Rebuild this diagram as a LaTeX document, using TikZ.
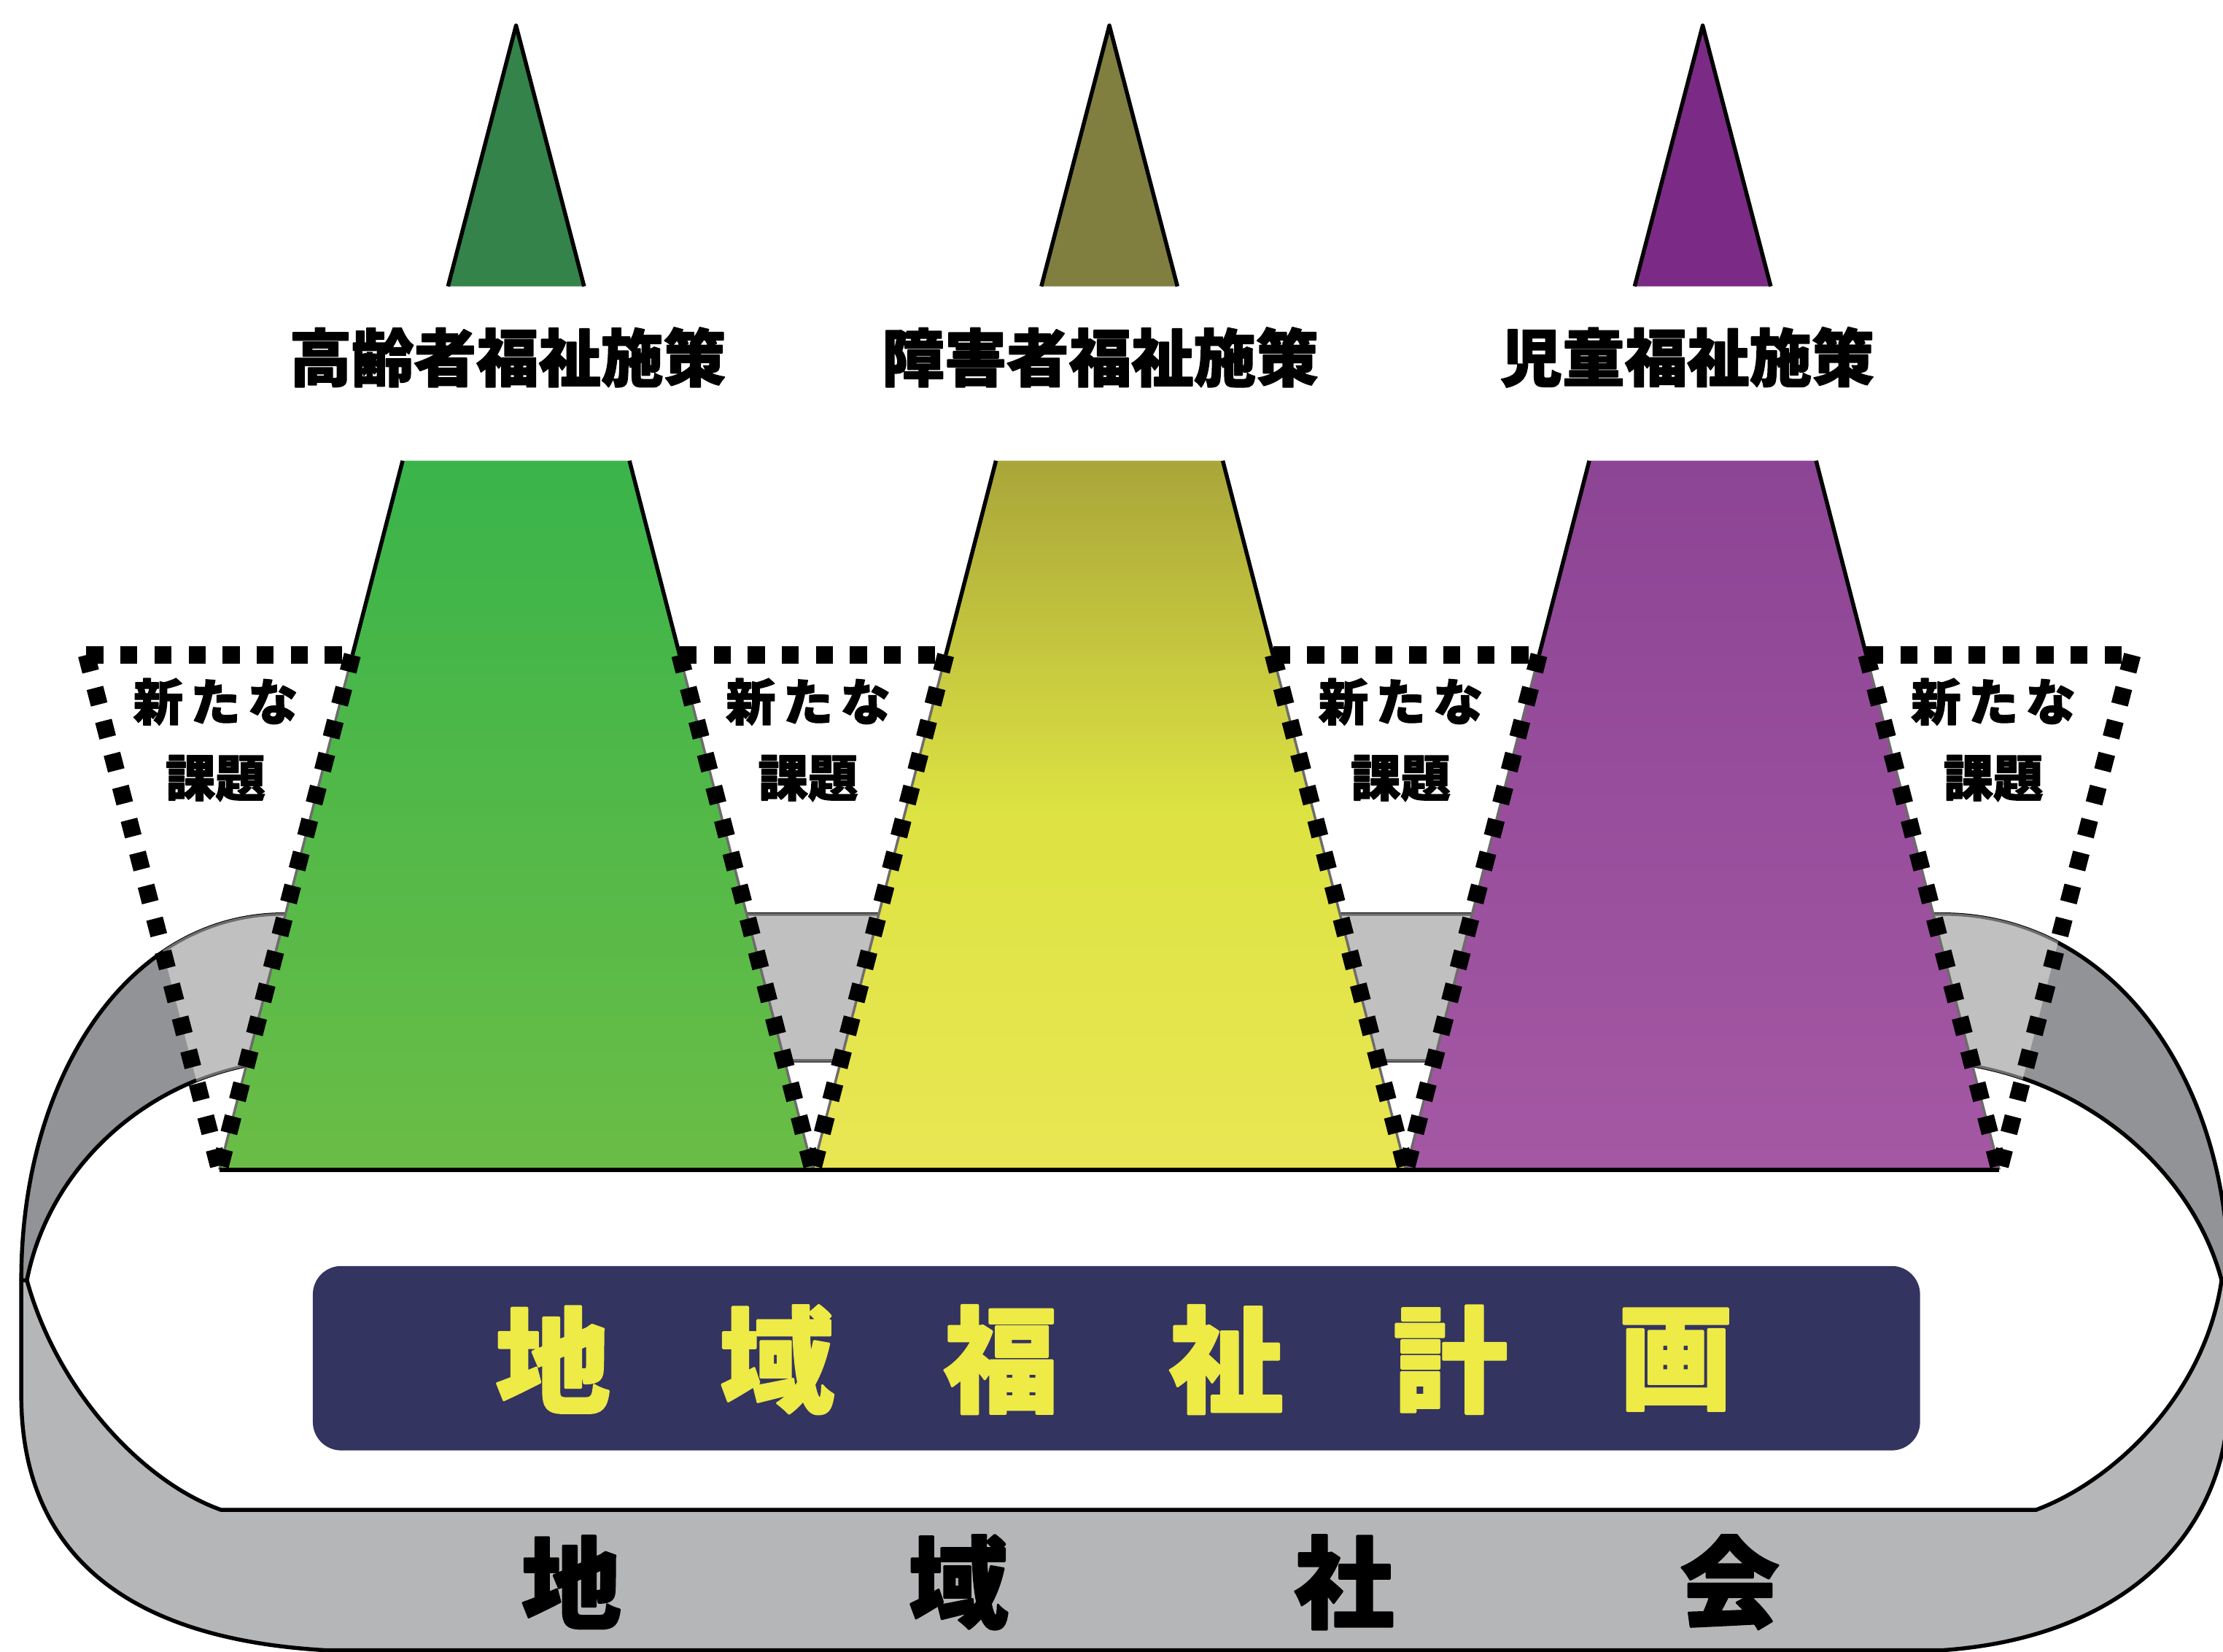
\documentclass[tikz,border=0pt]{standalone}
\usepackage{fontspec}
\newfontfamily\jp{Noto Sans CJK JP}[BoldFeatures={FakeBold=2}]
\definecolor{trigreen}{HTML}{34834A}
\definecolor{triolive}{HTML}{807F40}
\definecolor{tripurple}{HTML}{7B2B85}
\definecolor{gtop}{HTML}{3AB44A}
\definecolor{gbot}{HTML}{6ABD46}
\definecolor{ytop}{HTML}{A9A63A}
\definecolor{ymid}{HTML}{DDE342}
\definecolor{ybot}{HTML}{E9E653}
\definecolor{ptop}{HTML}{8C4494}
\definecolor{pbot}{HTML}{A458A4}
\definecolor{banddark}{HTML}{929397}
\definecolor{bandlight}{HTML}{C0C0C1}
\definecolor{bandfront}{HTML}{B5B6B8}
\definecolor{navy}{HTML}{333460}
\definecolor{plantext}{HTML}{EEEA46}
\definecolor{edgegray}{HTML}{6E6B6B}
\tikzset{
  outl/.style={draw=black, line width=0.028cm},
  grayline/.style={draw=edgegray, line width=0.018cm},
  dotline/.style={draw=black, line width=0.12cm, dash pattern=on 0.12cm off 0.12cm},
  poltext/.style={font=\jp\bfseries\fontsize{12.5}{14}\selectfont, inner sep=0pt},
  newtext/.style={font=\jp\bfseries\fontsize{10}{12}\selectfont, inner sep=0pt},
  plantxt/.style={font=\jp\bfseries\fontsize{23}{26}\selectfont, text=plantext, inner sep=0pt},
  comtxt/.style={font=\jp\bfseries\fontsize{20}{24}\selectfont, text=black, inner sep=0pt}
}
\def\bandbackpath{(15,903) .. controls (15,760) and (90,645) .. (200,645) -- (1370,645) .. controls (1490,645) and (1572,760) .. (1572,903) -- (1567,903) .. controls (1545,820) and (1460,752) .. (1360,748) -- (200,748) .. controls (110,754) and (35,820) .. (19,903) -- cycle}
\def\bandouter{(15,903) .. controls (15,760) and (90,645) .. (200,645) -- (1370,645) .. controls (1490,645) and (1572,760) .. (1572,903)}
\def\bandinner{(1567,903) .. controls (1545,820) and (1460,752) .. (1360,748) -- (200,748) .. controls (110,754) and (35,820) .. (19,903)}
\def\bandfrontpath{(15,903) -- (15,984) .. controls (15,1080) and (70,1155) .. (230,1164) -- (1370,1164) .. controls (1500,1155) and (1572,1080) .. (1572,984) -- (1572,903) -- (1567,903) .. controls (1555,985) and (1490,1045) .. (1436,1065) -- (156,1065) .. controls (100,1045) and (40,980) .. (19,903) -- cycle}
\begin{document}
\begin{tikzpicture}[x=0.01cm, y=-0.01cm, line join=round]
\useasboundingbox (0,0) rectangle (1568,1165);
\clip (0,0) rectangle (1568,1165);

% back part of the ring
\fill[banddark] \bandbackpath;
\draw[outl] \bandouter;
\draw[outl] \bandinner;
\begin{scope}
  \clip (61,462) -- (154.75,825) -- (248.55,462) -- cycle
        (479.45,462) -- (573.25,825) -- (667.05,462) -- cycle
        (897.95,462) -- (991.75,825) -- (1085.55,462) -- cycle
        (1316.45,462) -- (1410.25,825) -- (1504.05,462) -- cycle;
  \fill[bandlight] \bandbackpath;
  \draw[grayline] \bandouter;
  \draw[grayline] \bandinner;
\end{scope}

% top triangles
\fill[trigreen] (316,202) -- (364,18) -- (412,202) -- cycle;
\draw[outl] (316,202) -- (364,18) -- (412,202);
\fill[triolive] (734.5,202) -- (782.5,18) -- (830.5,202) -- cycle;
\draw[outl] (734.5,202) -- (782.5,18) -- (830.5,202);
\fill[tripurple] (1153,202) -- (1201,18) -- (1249,202) -- cycle;
\draw[outl] (1153,202) -- (1201,18) -- (1249,202);

% policy labels
\node[poltext] (pol1) at (358,252) {高齢者福祉施策};
\node[poltext] (pol2) at (776,252) {障害者福祉施策};
\node[poltext] (pol3) at (1190,252) {児童福祉施策};

% trapezoids
\path[top color=gtop, bottom color=gbot] (284,325) -- (444,325) -- (573.25,825) -- (154.75,825) -- cycle;
\path[top color=ytop, bottom color=ybot, middle color=ymid] (702.5,325) -- (862.5,325) -- (991.75,825) -- (573.25,825) -- cycle;
\path[top color=ptop, bottom color=pbot] (1121,325) -- (1281,325) -- (1410.25,825) -- (991.75,825) -- cycle;
\foreach \c in {364,782.5,1201}{
  \draw[outl] (\c-80,325) -- (\c-115.4,462);
  \draw[outl] (\c+80,325) -- (\c+115.4,462);
  \draw[grayline] (\c-115.4,462) -- (\c-209.25,825);
  \draw[grayline] (\c+115.4,462) -- (\c+209.25,825);
}
\draw[outl, line width=0.032cm] (154.75,825) -- (1410.25,825);

% dotted "new issue" frames
\foreach \a in {154.75,573.25,991.75,1410.25}{
  \draw[dotline] (\a-93.8,462) -- (\a+93.8,462);
  \draw[dotline] (\a-93.8,462) -- (\a,825);
  \draw[dotline] (\a+93.8,462) -- (\a,825);
}
\node[newtext] (n1a) at (152,495) {新\kern1.5ptた\kern1.5ptな};
\node[newtext] (n1b) at (152,549) {課題};
\node[newtext] (n2a) at (570,495) {新\kern1.5ptた\kern1.5ptな};
\node[newtext] (n2b) at (570,549) {課題};
\node[newtext] (n3a) at (988,495) {新\kern1.5ptた\kern1.5ptな};
\node[newtext] (n3b) at (988,549) {課題};
\node[newtext] (n4a) at (1406,495) {新\kern1.5ptた\kern1.5ptな};
\node[newtext] (n4b) at (1406,549) {課題};

% front part of the ring
\filldraw[fill=bandfront, outl] \bandfrontpath;

% plan box
\node[fill=navy, rounded corners=0.2cm, minimum width=11.33cm, minimum height=1.30cm, inner sep=0pt] (plan) at (787.5,958) {};
\node[plantxt] (p1) at (390,959) {地};
\node[plantxt] (p2) at (548,959) {域};
\node[plantxt] (p3) at (706,959) {福};
\node[plantxt] (p4) at (865,959) {祉};
\node[plantxt] (p5) at (1023,959) {計};
\node[plantxt] (p6) at (1182,959) {画};

% community text
\node[comtxt] (c1) at (403,1116) {地};
\node[comtxt] (c2) at (676,1116) {域};
\node[comtxt] (c3) at (948,1116) {社};
\node[comtxt] (c4) at (1220,1116) {会};
\end{tikzpicture}
\end{document}
